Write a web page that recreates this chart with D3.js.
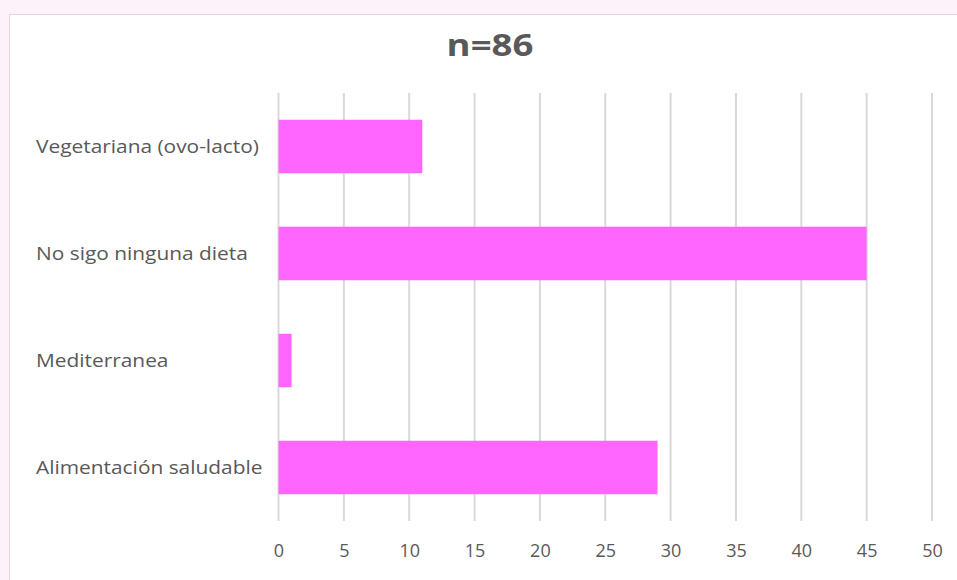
<!DOCTYPE html>
<html>
<head>
<meta charset="utf-8">
<script src="https://cdn.jsdelivr.net/npm/d3@7"></script>
<style>
  html, body { margin: 0; padding: 0; background: #fdf2fa; }
  svg { display: block; }
</style>
</head>
<body>
<svg id="chart" width="957" height="580"></svg>
<script>
// Diet categories, top to bottom, and the number of respondents for each
const categories = ["Vegetariana (ovo-lacto)", "No sigo ninguna dieta", "Mediterranea", "Alimentación saludable"];
const values = [11, 45, 1, 29];
const tickValues = [0, 5, 10, 15, 20, 25, 30, 35, 40, 45, 50];
const title = "n=86";

const svg = d3.select("#chart");
const W = 957, H = 580;

// white chart panel with thin grey frame
svg.append("rect")
  .attr("x", 9.5).attr("y", 14.5)
  .attr("width", W).attr("height", H)
  .attr("fill", "#ffffff")
  .attr("stroke", "#d9d9d9")
  .attr("stroke-width", 1);

const plot = { left: 278.5, right: 932, top: 93, bottom: 521 };

const x = d3.scaleLinear().domain([0, 50]).range([plot.left, plot.right]);
const y = d3.scaleBand().domain(categories)
  .range([plot.top, plot.bottom])
  .paddingInner(0.5).paddingOuter(0.25);

// vertical gridlines
svg.append("g")
  .selectAll("line")
  .data(tickValues)
  .join("line")
  .attr("x1", d => x(d)).attr("x2", d => x(d))
  .attr("y1", plot.top).attr("y2", plot.bottom)
  .attr("stroke", "#d9d9d9")
  .attr("stroke-width", 2);

// bars
svg.append("g")
  .selectAll("rect")
  .data(values)
  .join("rect")
  .attr("x", x(0))
  .attr("y", (d, i) => y(categories[i]))
  .attr("width", d => x(d) - x(0))
  .attr("height", y.bandwidth())
  .attr("fill", "#ff66ff");

const font = "'Open Sans', 'Noto Sans', sans-serif";
const labelStretch = 1.16;   // wide letterforms for category labels
const titleStretch = 1.18;

// x axis tick labels
const xAxis = d3.axisBottom(x).tickValues(tickValues).tickSize(0).tickPadding(0);
const gx = svg.append("g")
  .attr("transform", `translate(0, ${plot.bottom + 36})`)
  .call(xAxis);
gx.select(".domain").remove();
gx.selectAll("text")
  .attr("dy", null)
  .attr("y", 0)
  .attr("fill", "#595959")
  .style("font-family", font)
  .style("font-size", "18px");

// category labels, left-aligned
svg.append("g")
  .selectAll("text")
  .data(categories)
  .join("text")
  .attr("transform", d => `translate(36, ${y(d) + y.bandwidth() / 2 + 6.5}) scale(${labelStretch}, 1)`)
  .attr("fill", "#595959")
  .style("font-family", font)
  .style("font-size", "18px")
  .text(d => d);

// title
svg.append("text")
  .attr("transform", `translate(490, 56) scale(${titleStretch}, 1)`)
  .attr("text-anchor", "middle")
  .attr("fill", "#595959")
  .style("font-family", font)
  .style("font-weight", "bold")
  .style("font-size", "31px")
  .text(title);
</script>
</body>
</html>
